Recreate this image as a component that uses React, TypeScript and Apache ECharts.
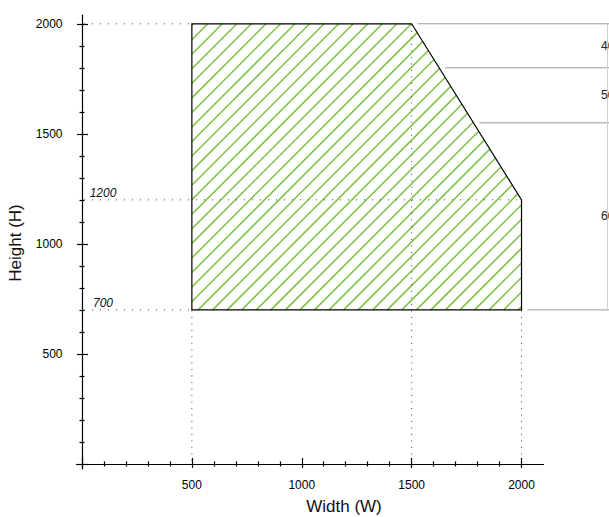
import React, { useEffect, useRef } from "react";
import * as echarts from "echarts";

// ---- data ----
const polygonW = [500, 500, 1500, 2000, 2000];
const polygonH = [700, 2000, 2000, 1200, 700];
const guideHeights = [2000, 1200, 700];
const guideHeightEnds = [500, 2000, 500];
const guideWidths = [500, 1500, 2000];
const guideWidthEnds = [700, 2000, 700];
const annotatedHeights = [1200, 700];
const bandHeights = [2000, 1800, 1550, 700];
const bandLabels = ["400", "500", "600"];
const axisMajor = [0, 500, 1000, 1500, 2000];
const axisLabels = [500, 1000, 1500, 2000];
const axisMinor = [100, 200, 300, 400, 600, 700, 800, 900, 1100, 1200, 1300, 1400, 1600, 1700, 1800, 1900];

const X_MIN = -25;
const X_MAX = 2100;
const Y_MIN = -23;
const Y_MAX = 2040;

const FONT = "'Liberation Sans', Arial, Helvetica, sans-serif";
const GREEN = "#7cc242";
const HATCH_STEP = 14.55;
const HATCH_PHASE = 508;

function makeAxis(dim: "x" | "y", kind: "main" | "majorIn" | "minorOut" | "minorIn") {
  const isX = dim === "x";
  const lengths = isX
    ? { main: 4, majorIn: 6, minorOut: 2.5, minorIn: 2.5 }
    : { main: 5, majorIn: 6, minorOut: 2.5, minorIn: 2.5 };
  return {
    type: "value",
    min: isX ? X_MIN : Y_MIN,
    max: isX ? X_MAX : Y_MAX,
    position: isX ? "bottom" : "left",
    axisLine: {
      show: kind === "main",
      onZero: true,
      onZeroAxisIndex: 0,
      lineStyle: { color: "#000", width: 1.2 },
    },
    axisTick: {
      show: true,
      inside: kind === "majorIn" || kind === "minorIn",
      length: lengths[kind],
      customValues: kind === "main" || kind === "majorIn" ? axisMajor : axisMinor,
      lineStyle: { color: "#000", width: 1.2 },
    },
    axisLabel: {
      show: kind === "main",
      customValues: axisLabels,
      formatter: (v: number) => String(v),
      margin: isX ? 10 : 14,
      color: "#000",
      fontSize: 12,
      fontFamily: FONT,
    },
    splitLine: { show: false },
    axisPointer: { show: false },
  };
}

export default function App() {
  const ref = useRef<HTMLDivElement>(null);
  useEffect(() => {
    if (!ref.current) return;
    const chart = echarts.init(ref.current, undefined, { renderer: "svg" });

    const renderItem = (_params: any, api: any) => {
      const pts = polygonW.map((w, i) => api.coord([w, polygonH[i]]));
      const children: any[] = [];

      // hatch lines (45°)
      const sums = pts.map((p: number[]) => p[0] + p[1]);
      const minS = Math.min(...sums);
      const maxS = Math.max(...sums);
      const k0 = Math.ceil((minS - HATCH_PHASE) / HATCH_STEP);
      for (let k = k0; HATCH_PHASE + k * HATCH_STEP <= maxS; k++) {
        const c = HATCH_PHASE + k * HATCH_STEP;
        const hits: number[][] = [];
        for (let i = 0; i < pts.length; i++) {
          const a = pts[i];
          const b = pts[(i + 1) % pts.length];
          const sa = a[0] + a[1] - c;
          const sb = b[0] + b[1] - c;
          if ((sa <= 0 && sb >= 0) || (sa >= 0 && sb <= 0)) {
            if (sa === sb) continue;
            const t = sa / (sa - sb);
            hits.push([a[0] + t * (b[0] - a[0]), a[1] + t * (b[1] - a[1])]);
          }
        }
        if (hits.length >= 2) {
          hits.sort((p, q) => p[0] - q[0]);
          const p1 = hits[0];
          const p2 = hits[hits.length - 1];
          children.push({
            type: "line",
            shape: { x1: p1[0], y1: p1[1], x2: p2[0], y2: p2[1] },
            style: { stroke: GREEN, lineWidth: 1.5 },
          });
        }
      }

      // dotted guides
      guideHeights.forEach((h, i) => {
        const a = api.coord([0, h]);
        const b = api.coord([guideHeightEnds[i], h]);
        children.push({
          type: "line",
          shape: { x1: a[0] + 2, y1: a[1], x2: b[0], y2: b[1] },
          style: { stroke: "#444", lineWidth: 1, lineDash: [1, 7] },
        });
      });
      guideWidths.forEach((w, i) => {
        const a = api.coord([w, 0]);
        const b = api.coord([w, guideWidthEnds[i]]);
        children.push({
          type: "line",
          shape: { x1: a[0], y1: a[1] - 3, x2: b[0], y2: b[1] },
          style: { stroke: "#444", lineWidth: 1, lineDash: [1, 5.5] },
        });
      });

      // polygon outline
      children.push({
        type: "polygon",
        shape: { points: pts },
        style: { fill: "none", stroke: "#000", lineWidth: 1.2 },
      });

      // italic annotations
      annotatedHeights.forEach((h) => {
        const p = api.coord([0, h]);
        children.push({
          type: "text",
          x: p[0] + 21,
          y: p[1] - 6.5,
          style: {
            text: String(h),
            fill: "#111",
            font: `italic 12px ${FONT}`,
            align: "center",
            verticalAlign: "middle",
          },
        });
      });

      // right side bands
      const width = api.getWidth();
      const rightEdge = (y: number) => {
        let mx = -Infinity;
        for (let i = 0; i < pts.length; i++) {
          const a = pts[i];
          const b = pts[(i + 1) % pts.length];
          if ((a[1] - y) * (b[1] - y) <= 0) {
            if (a[1] === b[1]) {
              mx = Math.max(mx, a[0], b[0]);
            } else {
              const t = (y - a[1]) / (b[1] - a[1]);
              mx = Math.max(mx, a[0] + t * (b[0] - a[0]));
            }
          }
        }
        return mx;
      };
      const bandYs = bandHeights.map((h) => api.coord([0, h])[1]);
      bandYs.forEach((y) => {
        const ex = rightEdge(y);
        children.push({
          type: "line",
          shape: { x1: ex + 6, y1: y, x2: width, y2: y },
          style: { stroke: "#9a9a9a", lineWidth: 1 },
        });
      });
      children.push({
        type: "line",
        shape: { x1: width - 1.5, y1: bandYs[0], x2: width - 1.5, y2: bandYs[bandYs.length - 1] },
        style: { stroke: "#d0d0d0", lineWidth: 1 },
      });
      bandLabels.forEach((lab, i) => {
        children.push({
          type: "text",
          x: width - 8,
          y: (bandYs[i] + bandYs[i + 1]) / 2,
          style: {
            text: lab,
            fill: "#222",
            font: `12px ${FONT}`,
            align: "left",
            verticalAlign: "middle",
          },
        });
      });

      return { type: "group", children };
    };

    chart.setOption({
      animation: false,
      backgroundColor: "#ffffff",
      grid: {
        left: 76.5,
        right: 65.5,
        top: 15,
        bottom: 48,
        containLabel: false,
        outerBoundsMode: "none",
      },
      xAxis: [makeAxis("x", "main"), makeAxis("x", "majorIn"), makeAxis("x", "minorOut"), makeAxis("x", "minorIn")],
      yAxis: [makeAxis("y", "main"), makeAxis("y", "majorIn"), makeAxis("y", "minorOut"), makeAxis("y", "minorIn")],
      graphic: [
        {
          type: "text",
          x: 344,
          y: 506,
          style: {
            text: "Width (W)",
            fill: "#111",
            font: `17px ${FONT}`,
            align: "center",
            verticalAlign: "middle",
          },
        },
        {
          type: "text",
          x: 15,
          y: 243,
          rotation: Math.PI / 2,
          style: {
            text: "Height (H)",
            fill: "#111",
            font: `17px ${FONT}`,
            align: "center",
            verticalAlign: "middle",
          },
        },
      ],
      series: [
        {
          type: "custom",
          coordinateSystem: "cartesian2d",
          xAxisIndex: 0,
          yAxisIndex: 0,
          clip: false,
          silent: true,
          data: [[0, 0]],
          renderItem,
        },
      ],
    });
    return () => chart.dispose();
  }, []);

  return (
    <div
      ref={ref}
      style={{ position: "absolute", left: 0, top: 0, width: 609, height: 517, background: "#fff" }}
    />
  );
}
